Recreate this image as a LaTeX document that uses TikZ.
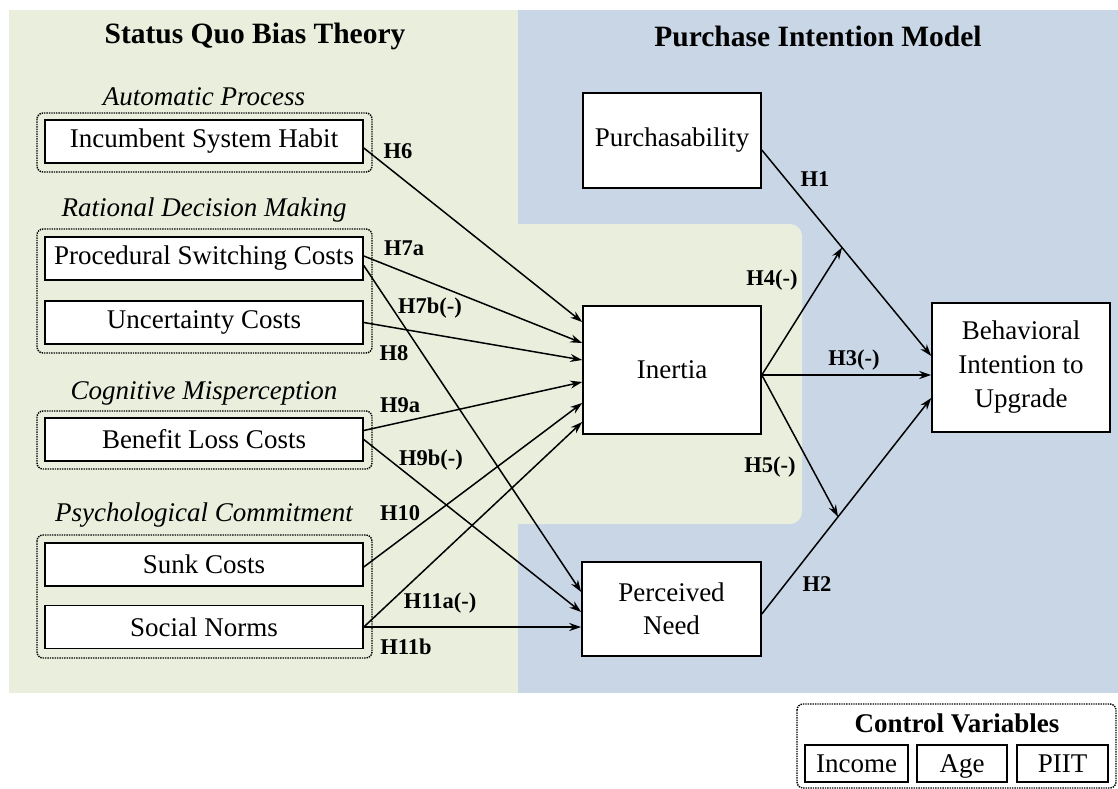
\documentclass[tikz,border=0pt]{standalone}
\usepackage{fontspec}
\setmainfont{Liberation Serif}
\usetikzlibrary{arrows.meta,calc}
\definecolor{bggreen}{HTML}{EAEFDD}
\definecolor{bgblue}{HTML}{C8D6E6}
\begin{document}
\begin{tikzpicture}[x=1pt,y=-1pt,
  box/.style={draw=black, fill=white, line width=1.6pt, inner sep=0pt, align=center, font=\fontsize{27}{33}\selectfont},
  cbox/.style={box, minimum height=37pt, text height=18pt, text depth=1pt},
  grp/.style={draw=black, densely dotted, line width=1.4pt, rounded corners=6pt},
  cat/.style={font=\fontsize{27}{32}\selectfont\itshape},
  ttl/.style={font=\fontsize{29.5}{34}\selectfont\bfseries},
  hyp/.style={font=\fontsize{22.5}{26}\selectfont\bfseries, inner sep=0pt},
  conn/.style={line width=1.5pt, -{Stealth[length=12pt,width=8pt]}}
]
\useasboundingbox (0,0) rectangle (1118,789);
% backgrounds
\fill[bggreen] (9,10) rectangle (518,693);
\fill[bgblue] (518,10) rectangle (1118,693);
\fill[bggreen, rounded corners=12pt] (500,224) rectangle (802,524);

% titles
\node[ttl] (t1) at (255,36) {Status Quo Bias Theory};
\node[ttl] (t2) at (818,36) {Purchase Intention Model};

% category labels
\node[cat] (catA) at (204,97) {Automatic Process};
\node[cat] (catB) at (204,210) {Rational Decision Making};
\node[cat] (catC) at (204,393) {Cognitive Misperception};
\node[cat] (catD) at (204,515) {Psychological Commitment};

% dotted groups
\draw[grp] (37,113) rectangle (372,172);
\draw[grp] (37,229) rectangle (372,353);
\draw[grp] (37,411) rectangle (372,469);
\draw[grp] (37,535) rectangle (372,658);

% left boxes
\node[box, minimum width=318pt, minimum height=43pt] (inc) at (204,141.5) {Incumbent System Habit};
\node[box, minimum width=318pt, minimum height=43pt] (proc) at (204,258.5) {Procedural Switching Costs};
\node[box, minimum width=318pt, minimum height=43pt] (unc) at (204,322.5) {Uncertainty Costs};
\node[box, minimum width=318pt, minimum height=43pt] (ben) at (204,439.5) {Benefit Loss Costs};
\node[box, minimum width=318pt, minimum height=43pt] (sunk) at (204,564.5) {Sunk Costs};
\node[box, minimum width=318pt, minimum height=43pt] (soc) at (204,627) {Social Norms};

% right boxes
\node[box, minimum width=178pt, minimum height=95pt] (pur) at (672,140.5) {Purchasability};
\node[box, minimum width=178pt, minimum height=128pt] (inr) at (672,370) {Inertia};
\node[box, minimum width=179pt, minimum height=94pt] (pn) at (671.5,609) {Perceived\\Need};
\node[box, minimum width=178pt, minimum height=129pt, font=\fontsize{27}{34}\selectfont] (beh) at (1021,367.5) {Behavioral\\Intention to\\Upgrade};

% left connectors
\draw[conn] ([yshift=-6.5pt]inc.east) -- ([yshift=48pt]inr.west);
\draw[conn] ([yshift=2.5pt]proc.east) -- ([yshift=27pt]inr.west);
\draw[conn] ([yshift=-7pt]proc.east) -- ([yshift=17pt]pn.west);
\draw[conn] (unc.east) -- ([yshift=10pt]inr.west);
\draw[conn] ([yshift=9pt]ben.east) -- ([yshift=-12pt]inr.west);
\draw[conn] ([yshift=0pt]ben.east) -- ([yshift=-3pt]pn.west);
\draw[conn] ([yshift=-2.5pt]sunk.east) -- ([yshift=-33pt]inr.west);
\draw[conn] (soc.east) -- ([yshift=-52pt]inr.west);
\draw[conn] (soc.east) -- (soc.east -| pn.west);

% right connectors
\coordinate (h1s) at ([yshift=-9.5pt]pur.east);
\coordinate (h1e) at ([yshift=11.5pt]beh.west);
\coordinate (j1) at ($(h1s)!0.4737!(h1e)$);
\coordinate (ino) at ([yshift=-5pt]inr.east);
\coordinate (h2s) at ([yshift=-5pt]pn.east);
\coordinate (h2e) at ([yshift=-30.5pt]beh.west);
\coordinate (j2) at ($(h2s)!0.45!(h2e)$);
\draw[conn] (h1s) -- (h1e);
\draw[conn] (h2s) -- (h2e);
\draw[conn] (ino) -- (j1);
\draw[conn] (ino) -- (j2);
\draw[conn] (ino) -- (ino -| beh.west);

% hypothesis labels
\node[hyp] (lH6) at (398,151) {H6};
\node[hyp] (lH7a) at (404,248) {H7a};
\node[hyp] (lH7b) at (430,308) {H7b(-)};
\node[hyp] (lH8) at (394,353) {H8};
\node[hyp] (lH9a) at (400,405) {H9a};
\node[hyp] (lH9b) at (431,460) {H9b(-)};
\node[hyp] (lH10) at (400,513) {H10};
\node[hyp] (lH11a) at (440,603) {H11a(-)};
\node[hyp] (lH11b) at (406,647) {H11b};
\node[hyp] (lH1) at (815,179) {H1};
\node[hyp] (lH4) at (772,280) {H4(-)};
\node[hyp] (lH3) at (854,360) {H3(-)};
\node[hyp] (lH5) at (770,467) {H5(-)};
\node[hyp] (lH2) at (817,584) {H2};

% control variables
\draw[grp] (797,704) rectangle (1116,788);
\node[font=\fontsize{27}{32}\selectfont\bfseries] (cvt) at (957,723) {Control Variables};
\node[cbox, minimum width=103pt] (cinc) at (856.5,763.5) {Income};
\node[cbox, minimum width=90pt] (cage) at (962,763.5) {Age};
\node[cbox, minimum width=91pt] (cpiit) at (1062.5,763.5) {PIIT};
\end{tikzpicture}
\end{document}
